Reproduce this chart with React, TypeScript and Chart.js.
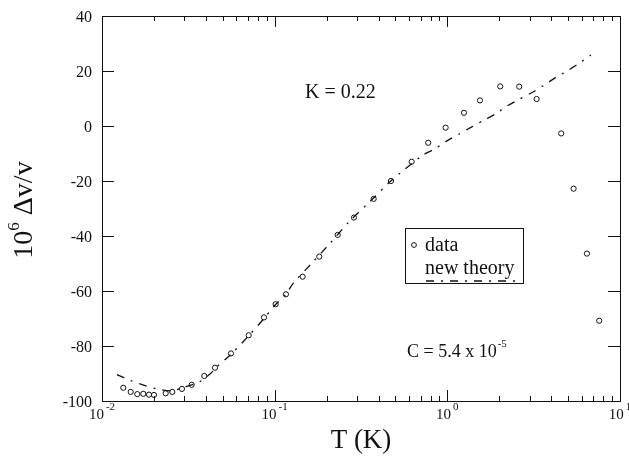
import React, { useEffect, useRef } from 'react';
import { Chart, registerables } from 'chart.js';

Chart.register(...registerables);

// Measured data (temperature in K, 10^6 Δv/v)
const dataT = [
  0.01328, 0.01466, 0.01601, 0.01734, 0.01871, 0.02, 0.02338, 0.02553, 0.02905, 0.03307,
  0.03912, 0.04511, 0.05585, 0.07071, 0.0867, 0.1013, 0.1162, 0.1452, 0.1812, 0.2317,
  0.2878, 0.3744, 0.4716, 0.6214, 0.775, 0.9777, 1.248, 1.545, 2.025, 2.608,
  3.289, 4.566, 5.386, 6.432, 7.58,
];
const dataV = [
  -95.2, -96.7, -97.5, -97.4, -97.7, -97.8, -97.2, -96.7, -95.6, -94.1,
  -90.9, -87.9, -82.7, -76.1, -69.6, -64.8, -61.2, -54.8, -47.5, -39.6,
  -33.3, -26.5, -20.0, -13.0, -6.1, -0.6, 4.8, 9.3, 14.4, 14.3,
  9.8, -2.7, -22.8, -46.4, -70.8,
];

// New theory curve
const theoryT = [
  0.0122, 0.0147, 0.0174, 0.0208, 0.0254, 0.029, 0.0363, 0.0422, 0.0463, 0.0559,
  0.0707, 0.0867, 0.101, 0.116, 0.128, 0.164, 0.209, 0.27, 0.356, 0.465,
  0.532, 0.7255, 0.848, 0.99, 1.172, 1.37, 1.614, 1.912, 2.223, 2.608,
  3.077, 3.626, 4.255, 4.974, 5.861, 6.785,
];
const theoryV = [
  -90.4, -92.6, -94.2, -95.6, -96.3, -95.2, -93.2, -90.2, -87.5, -83.0,
  -76.3, -70.0, -65.0, -61.2, -57.2, -49.9, -42.7, -34.8, -27.5, -20.3,
  -17.2, -10.5, -8.3, -5.5, -2.9, -0.5, 2.0, 4.5, 7.3, 9.7,
  12.1, 14.8, 17.7, 20.1, 23.0, 25.8,
];

const yTicks = [-100, -80, -60, -40, -20, 0, 20, 40];
const xDecades = [-2, -1, 0, 1];
const xMinorMultipliers = [2, 3, 4, 5, 6, 7, 8, 9];
const legendLabels = ['data', 'new theory'];
const annotationK = 'K = 0.22';
const annotationC = 'C = 5.4 x 10';
const annotationCExp = '-5';
const xTitle = 'T (K)';
const yTitleBase = '10';
const yTitleExp = '6';
const yTitleRest = ' \u0394v/v';

const SERIF = '"Liberation Serif", "Times New Roman", serif';
const DASH = [8, 7, 2, 7];

const overlayPlugin = {
  id: 'overlay',
  afterDraw(chart: any) {
    const ctx: CanvasRenderingContext2D = chart.ctx;
    const { left, right, top, bottom } = chart.chartArea;
    const xs = chart.scales.x;
    const ys = chart.scales.y;
    ctx.save();
    ctx.strokeStyle = '#111';
    ctx.fillStyle = '#111';
    ctx.lineWidth = 1;
    ctx.setLineDash([]);
    // frame
    ctx.strokeRect(Math.round(left) + 0.5, Math.round(top) + 0.5, Math.round(right - left), Math.round(bottom - top));

    // y ticks + labels
    ctx.font = `16px ${SERIF}`;
    ctx.textAlign = 'right';
    ctx.textBaseline = 'middle';
    yTicks.forEach((v) => {
      const py = Math.round(ys.getPixelForValue(v)) + 0.5;
      ctx.beginPath();
      ctx.moveTo(left, py);
      ctx.lineTo(left + 12, py);
      ctx.moveTo(right, py);
      ctx.lineTo(right - 12, py);
      ctx.stroke();
      ctx.fillText(String(v), left - 10, py + 1);
    });

    // x ticks
    xDecades.forEach((d) => {
      const base = Math.pow(10, d);
      const mults = [1, ...xMinorMultipliers];
      mults.forEach((m) => {
        const val = m * base;
        if (val > 10.0001) return;
        const px = Math.round(xs.getPixelForValue(val)) + 0.5;
        const len = m === 1 ? 11 : 5;
        ctx.beginPath();
        ctx.moveTo(px, bottom);
        ctx.lineTo(px, bottom - len);
        ctx.moveTo(px, top);
        ctx.lineTo(px, top + len);
        ctx.stroke();
      });
    });

    // x labels with superscript
    ctx.textAlign = 'left';
    ctx.textBaseline = 'alphabetic';
    xDecades.forEach((d) => {
      const px = xs.getPixelForValue(Math.pow(10, d));
      ctx.font = `15px ${SERIF}`;
      const wb = ctx.measureText('10').width;
      ctx.font = `11px ${SERIF}`;
      const exp = String(d);
      const we = ctx.measureText(exp).width;
      const start = px - (wb + we + 2) / 2;
      ctx.font = `15px ${SERIF}`;
      ctx.fillText('10', start, 419);
      ctx.font = `11px ${SERIF}`;
      ctx.fillText(exp, start + wb + 2, 410);
    });

    // x title
    ctx.font = `27px ${SERIF}`;
    ctx.textAlign = 'center';
    ctx.fillText(xTitle, (left + right) / 2, 448);

    // y title (rotated)
    ctx.save();
    ctx.translate(32, 210);
    ctx.rotate(-Math.PI / 2);
    ctx.font = `28px ${SERIF}`;
    const wB = ctx.measureText(yTitleBase).width;
    const wR = ctx.measureText(yTitleRest).width;
    ctx.font = `17px ${SERIF}`;
    const wE = ctx.measureText(yTitleExp).width;
    const total = wB + wE + wR;
    let cx = -total / 2;
    ctx.textAlign = 'left';
    ctx.font = `28px ${SERIF}`;
    ctx.fillText(yTitleBase, cx, 0);
    cx += wB;
    ctx.font = `17px ${SERIF}`;
    ctx.fillText(yTitleExp, cx, -13);
    cx += wE;
    ctx.font = `28px ${SERIF}`;
    ctx.fillText(yTitleRest, cx, 0);
    ctx.restore();

    // annotations
    ctx.textAlign = 'left';
    ctx.font = `20px ${SERIF}`;
    ctx.fillText(annotationK, 305, 98);
    ctx.font = `18px ${SERIF}`;
    ctx.fillText(annotationC, 407, 357);
    const wc = ctx.measureText(annotationC).width;
    ctx.font = `11px ${SERIF}`;
    ctx.fillText(annotationCExp, 407 + wc + 1, 347);

    // legend
    ctx.lineWidth = 1;
    ctx.strokeRect(405.5, 228.5, 118, 55);
    ctx.beginPath();
    ctx.arc(414, 245, 2.4, 0, Math.PI * 2);
    ctx.stroke();
    ctx.font = `20px ${SERIF}`;
    ctx.fillText(legendLabels[0], 425, 251);
    ctx.fillText(legendLabels[1], 425, 274);
    ctx.setLineDash(DASH);
    ctx.lineWidth = 1.3;
    ctx.beginPath();
    ctx.moveTo(426, 281);
    ctx.lineTo(516, 281);
    ctx.stroke();
    ctx.restore();
  },
};

export default function App() {
  const ref = useRef<HTMLCanvasElement | null>(null);
  useEffect(() => {
    if (!ref.current) return;
    const chart = new Chart(ref.current, {
      type: 'scatter',
      data: {
        datasets: [
          {
            label: 'data',
            data: dataT.map((t, i) => ({ x: t, y: dataV[i] })),
            pointStyle: 'circle',
            pointRadius: 2.6,
            pointBorderWidth: 1,
            pointBorderColor: '#111',
            pointBackgroundColor: 'rgba(255,255,255,0)',
            showLine: false,
          },
          {
            label: 'new theory',
            data: theoryT.map((t, i) => ({ x: t, y: theoryV[i] })),
            showLine: true,
            borderColor: '#111',
            borderWidth: 1.3,
            borderDash: DASH,
            pointRadius: 0,
            tension: 0.3,
          },
        ],
      },
      options: {
        animation: false,
        responsive: false,
        devicePixelRatio: 1,
        layout: { padding: { left: 102, right: 9, top: 16, bottom: 55 } },
        plugins: { legend: { display: false }, tooltip: { enabled: false } },
        scales: {
          x: { type: 'logarithmic', min: 0.01, max: 10, display: false },
          y: { type: 'linear', min: -100, max: 40, display: false },
        },
      },
      plugins: [overlayPlugin],
    });
    return () => chart.destroy();
  }, []);
  return (
    <div style={{ position: 'fixed', left: 0, top: 0, width: 629, height: 456, background: '#fff' }}>
      <canvas ref={ref} width={629} height={456} />
    </div>
  );
}
